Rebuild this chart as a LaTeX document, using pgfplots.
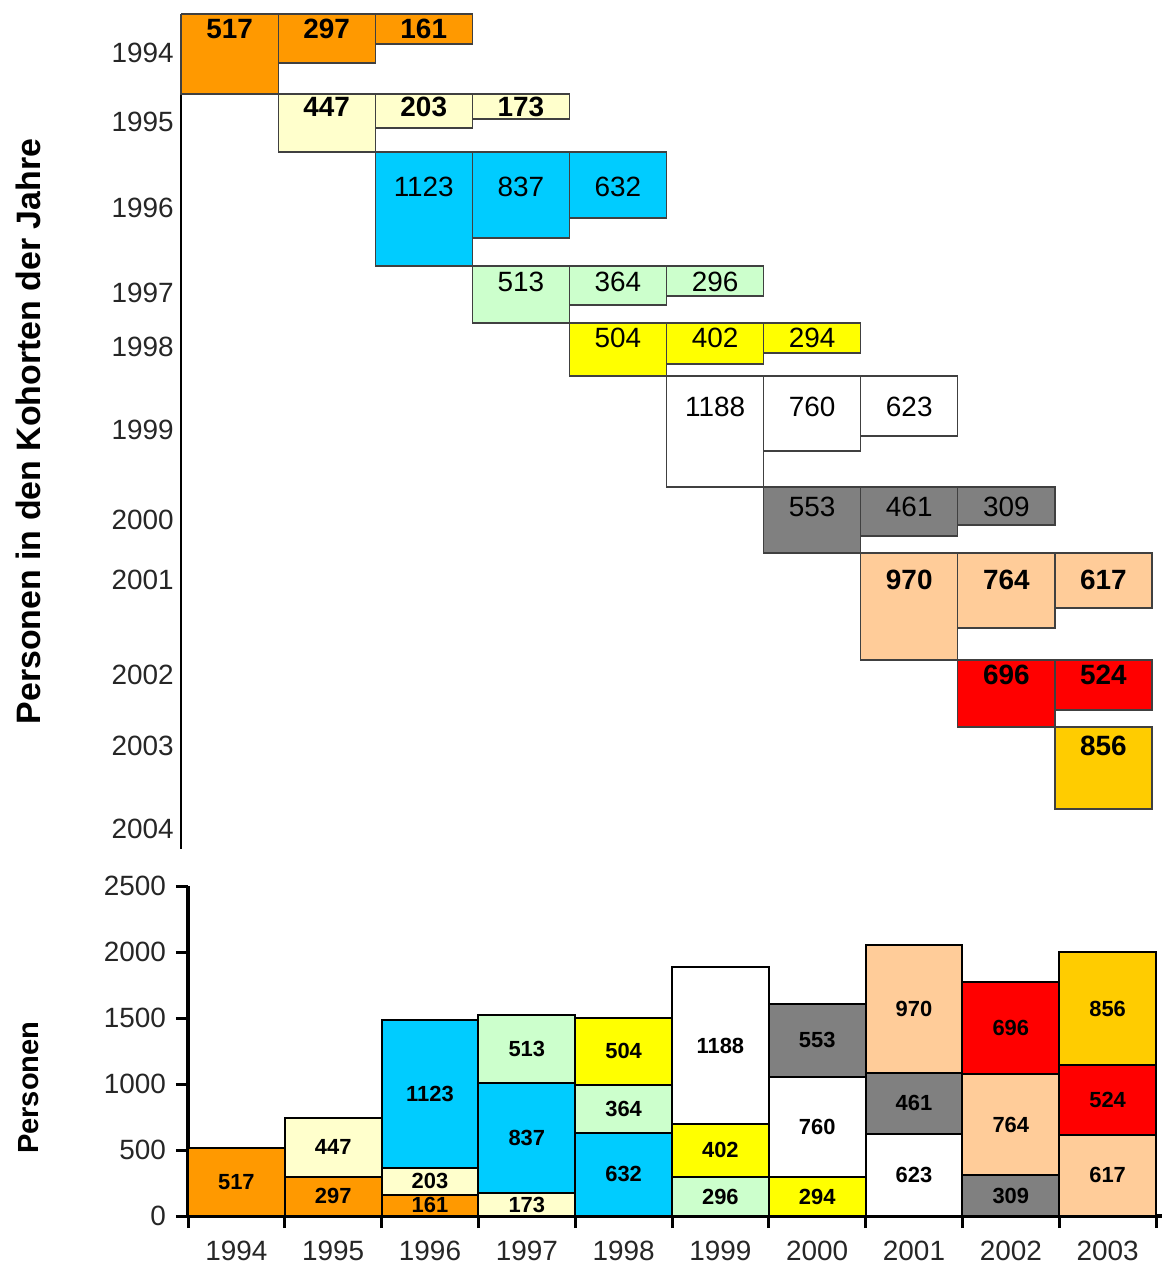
\documentclass[border=0pt]{standalone}
\usepackage{fontspec}
\setmainfont{Liberation Sans}
\usepackage{pgfplots}
\pgfplotsset{compat=1.18}
\definecolor{cOrange}{HTML}{FF9900}
\definecolor{cLYellow}{HTML}{FFFFCC}
\definecolor{cBlue}{HTML}{00CCFF}
\definecolor{cLGreen}{HTML}{CCFFCC}
\definecolor{cYellow}{HTML}{FFFF00}
\definecolor{cWhite}{HTML}{FFFFFF}
\definecolor{cGray}{HTML}{808080}
\definecolor{cPeach}{HTML}{FFCC99}
\definecolor{cRed}{HTML}{FF0000}
\definecolor{cGold}{HTML}{FFCC00}
\newcommand{\tl}{\fontsize{14}{16}\selectfont}
\newcommand{\bl}{\fontsize{11}{13}\selectfont\bfseries}
\begin{document}
\begin{tikzpicture}
\useasboundingbox (0,0) rectangle (581bp,635bp);
% ---------------- top: cohort diagram ----------------
\begin{axis}[
  at={(90.5bp,210.5bp)}, anchor=south west,
  scale only axis, width=485.5bp, height=417.5bp,
  xmin=0, xmax=10, ymin=14, ymax=849, y dir=reverse,
  axis x line=none, axis y line*=left,
  y axis line style={line width=1bp, black},
  ytick={53,122,208,293,347,430,520,580,675,746,829},
  yticklabels={1994,1995,1996,1997,1998,1999,2000,2001,2002,2003,2004},
  major tick length=0pt, ytick style={draw=none},
  yticklabel style={font=\tl, text=black!85, inner xsep=3.5bp},
  ylabel={Personen in den Kohorten der Jahre},
  every axis y label/.style={at={(axis description cs:-0.1576,0.5)}, rotate=90, anchor=center,
    font=\fontsize{17}{19}\selectfont\bfseries},
  clip=false, no markers,
  tb/.style={draw=black!75, line width=0.6bp},
]
% cohort 1994
\addplot[tb, fill=cOrange] coordinates {(0,14) (1,14) (1,94) (0,94) (0,14)};
\addplot[tb, fill=cOrange] coordinates {(1,14) (2,14) (2,63) (1,63) (1,14)};
\addplot[tb, fill=cOrange] coordinates {(2,14) (3,14) (3,44) (2,44) (2,14)};
% cohort 1995
\addplot[tb, fill=cLYellow] coordinates {(1,94) (2,94) (2,152) (1,152) (1,94)};
\addplot[tb, fill=cLYellow] coordinates {(2,94) (3,94) (3,128) (2,128) (2,94)};
\addplot[tb, fill=cLYellow] coordinates {(3,94) (4,94) (4,119) (3,119) (3,94)};
% cohort 1996
\addplot[tb, fill=cBlue] coordinates {(2,152) (3,152) (3,266) (2,266) (2,152)};
\addplot[tb, fill=cBlue] coordinates {(3,152) (4,152) (4,238) (3,238) (3,152)};
\addplot[tb, fill=cBlue] coordinates {(4,152) (5,152) (5,218) (4,218) (4,152)};
% cohort 1997
\addplot[tb, fill=cLGreen] coordinates {(3,266) (4,266) (4,323) (3,323) (3,266)};
\addplot[tb, fill=cLGreen] coordinates {(4,266) (5,266) (5,305) (4,305) (4,266)};
\addplot[tb, fill=cLGreen] coordinates {(5,266) (6,266) (6,296) (5,296) (5,266)};
% cohort 1998
\addplot[tb, fill=cYellow] coordinates {(4,323) (5,323) (5,376) (4,376) (4,323)};
\addplot[tb, fill=cYellow] coordinates {(5,323) (6,323) (6,364) (5,364) (5,323)};
\addplot[tb, fill=cYellow] coordinates {(6,323) (7,323) (7,353) (6,353) (6,323)};
% cohort 1999
\addplot[tb, fill=cWhite] coordinates {(5,376) (6,376) (6,487) (5,487) (5,376)};
\addplot[tb, fill=cWhite] coordinates {(6,376) (7,376) (7,451) (6,451) (6,376)};
\addplot[tb, fill=cWhite] coordinates {(7,376) (8,376) (8,436) (7,436) (7,376)};
% cohort 2000
\addplot[tb, fill=cGray] coordinates {(6,487) (7,487) (7,553) (6,553) (6,487)};
\addplot[tb, fill=cGray] coordinates {(7,487) (8,487) (8,536) (7,536) (7,487)};
\addplot[tb, fill=cGray] coordinates {(8,487) (9,487) (9,525) (8,525) (8,487)};
% cohort 2001
\addplot[tb, fill=cPeach] coordinates {(7,553) (8,553) (8,660) (7,660) (7,553)};
\addplot[tb, fill=cPeach] coordinates {(8,553) (9,553) (9,628) (8,628) (8,553)};
\addplot[tb, fill=cPeach] coordinates {(9,553) (10,553) (10,608) (9,608) (9,553)};
% cohort 2002
\addplot[tb, fill=cRed] coordinates {(8,660) (9,660) (9,727) (8,727) (8,660)};
\addplot[tb, fill=cRed] coordinates {(9,660) (10,660) (10,710) (9,710) (9,660)};
% cohort 2003
\addplot[tb, fill=cGold] coordinates {(9,727) (10,727) (10,809) (9,809) (9,727)};
% labels
\node[font=\tl\bfseries] at (axis cs:0.5,29) {517};
\node[font=\tl\bfseries] at (axis cs:1.5,29) {297};
\node[font=\tl\bfseries] at (axis cs:2.5,29) {161};
\node[font=\tl\bfseries] at (axis cs:1.5,107) {447};
\node[font=\tl\bfseries] at (axis cs:2.5,107) {203};
\node[font=\tl\bfseries] at (axis cs:3.5,107) {173};
\node[font=\tl] at (axis cs:2.5,187) {1123};
\node[font=\tl] at (axis cs:3.5,187) {837};
\node[font=\tl] at (axis cs:4.5,187) {632};
\node[font=\tl] at (axis cs:3.5,282) {513};
\node[font=\tl] at (axis cs:4.5,282) {364};
\node[font=\tl] at (axis cs:5.5,282) {296};
\node[font=\tl] at (axis cs:4.5,338) {504};
\node[font=\tl] at (axis cs:5.5,338) {402};
\node[font=\tl] at (axis cs:6.5,338) {294};
\node[font=\tl] at (axis cs:5.5,407) {1188};
\node[font=\tl] at (axis cs:6.5,407) {760};
\node[font=\tl] at (axis cs:7.5,407) {623};
\node[font=\tl] at (axis cs:6.5,507) {553};
\node[font=\tl] at (axis cs:7.5,507) {461};
\node[font=\tl] at (axis cs:8.5,507) {309};
\node[font=\tl\bfseries] at (axis cs:7.5,580) {970};
\node[font=\tl\bfseries] at (axis cs:8.5,580) {764};
\node[font=\tl\bfseries] at (axis cs:9.5,580) {617};
\node[font=\tl\bfseries] at (axis cs:8.5,675) {696};
\node[font=\tl\bfseries] at (axis cs:9.5,675) {524};
\node[font=\tl\bfseries] at (axis cs:9.5,746) {856};
\end{axis}
% ---------------- bottom: stacked bars ----------------
\begin{axis}[
  at={(94bp,27bp)}, anchor=south west,
  scale only axis, width=484bp, height=165bp,
  xmin=-0.5, xmax=9.5, ymin=0, ymax=2500,
  ybar stacked, bar width=1,
  axis lines*=left,
  axis line style={line width=2bp, black},
  x axis line style={shorten >=-3bp},
  xtick={-0.5,0.5,1.5,2.5,3.5,4.5,5.5,6.5,7.5,8.5,9.5},
  xticklabels={1994,1995,1996,1997,1998,1999,2000,2001,2002,2003,{}},
  xticklabel style={xshift=24.2bp, yshift=-6.5bp, inner ysep=0pt},
  ytick={0,500,1000,1500,2000,2500},
  tick align=outside, major tick length=6bp,
  tick style={line width=1.5bp, black},
  ticklabel style={font=\tl, text=black!85},
  /pgf/number format/assume math mode=true,
  /pgf/number format/1000 sep={},
  yticklabel style={xshift=-1.5bp},
  ylabel={Personen},
  every axis y label/.style={at={(axis description cs:-0.165,0.389)}, rotate=90, anchor=center,
    font=\fontsize{14.6}{16}\selectfont\bfseries},
  clip=false,
  bb/.style={draw=black, line width=1bp},
]
\addplot[bb, fill=cOrange]  coordinates {(0,517) (1,297) (2,161) (3,0) (4,0) (5,0) (6,0) (7,0) (8,0) (9,0)};
\addplot[bb, fill=cLYellow] coordinates {(0,0) (1,447) (2,203) (3,173) (4,0) (5,0) (6,0) (7,0) (8,0) (9,0)};
\addplot[bb, fill=cBlue]    coordinates {(0,0) (1,0) (2,1123) (3,837) (4,632) (5,0) (6,0) (7,0) (8,0) (9,0)};
\addplot[bb, fill=cLGreen]  coordinates {(0,0) (1,0) (2,0) (3,513) (4,364) (5,296) (6,0) (7,0) (8,0) (9,0)};
\addplot[bb, fill=cYellow]  coordinates {(0,0) (1,0) (2,0) (3,0) (4,504) (5,402) (6,294) (7,0) (8,0) (9,0)};
\addplot[bb, fill=cWhite]   coordinates {(0,0) (1,0) (2,0) (3,0) (4,0) (5,1188) (6,760) (7,623) (8,0) (9,0)};
\addplot[bb, fill=cGray]    coordinates {(0,0) (1,0) (2,0) (3,0) (4,0) (5,0) (6,553) (7,461) (8,309) (9,0)};
\addplot[bb, fill=cPeach]   coordinates {(0,0) (1,0) (2,0) (3,0) (4,0) (5,0) (6,0) (7,970) (8,764) (9,617)};
\addplot[bb, fill=cRed]     coordinates {(0,0) (1,0) (2,0) (3,0) (4,0) (5,0) (6,0) (7,0) (8,696) (9,524)};
\addplot[bb, fill=cGold]    coordinates {(0,0) (1,0) (2,0) (3,0) (4,0) (5,0) (6,0) (7,0) (8,0) (9,856)};
\end{axis}
% overlay axis with the segment labels (centres of the stacked segments)
\begin{axis}[
  at={(94bp,27bp)}, anchor=south west,
  scale only axis, width=484bp, height=165bp,
  xmin=-0.5, xmax=9.5, ymin=0, ymax=2500,
  hide axis, clip=false,
]
\addplot[draw=none, mark=none, point meta=explicit symbolic,
  nodes near coords, nodes near coords align=center,
  every node near coord/.style={font=\bl, anchor=center, text=black}]
  coordinates {
  (0,258.5)[517]
  (1,148.5)[297] (1,520.5)[447]
  (2,80.5)[161] (2,262.5)[203] (2,925.5)[1123]
  (3,86.5)[173] (3,591.5)[837] (3,1266.5)[513]
  (4,316)[632] (4,814)[364] (4,1248)[504]
  (5,148)[296] (5,497)[402] (5,1292)[1188]
  (6,147)[294] (6,674)[760] (6,1330.5)[553]
  (7,311.5)[623] (7,853.5)[461] (7,1569)[970]
  (8,154.5)[309] (8,691)[764] (8,1421)[696]
  (9,308.5)[617] (9,879)[524] (9,1569)[856]
  };
\end{axis}
\end{tikzpicture}
\end{document}
